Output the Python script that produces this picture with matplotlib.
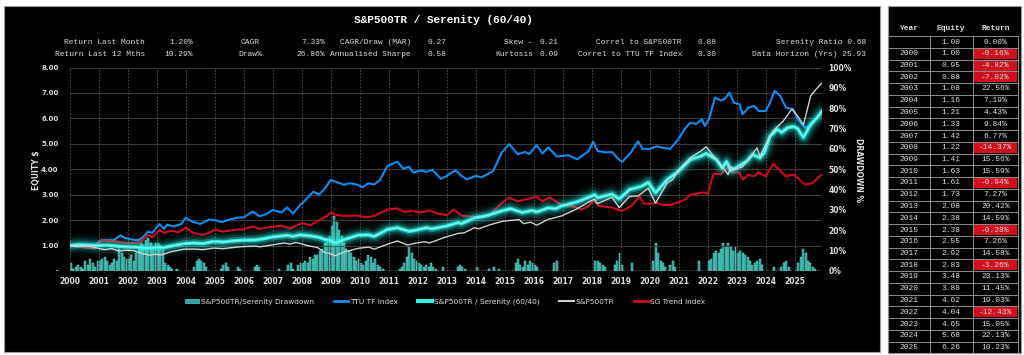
import numpy as np
import matplotlib
matplotlib.use('Agg')
import matplotlib.pyplot as plt
from matplotlib.patches import Rectangle, Patch
from matplotlib.lines import Line2D

# ---- data ----
ttu_t = [2000.0, 2000.3, 2000.6, 2000.85, 2001.0, 2001.2, 2001.5, 2001.75, 2001.9, 2002.1, 2002.35, 2002.5,
         2002.7, 2002.85, 2003.1, 2003.25, 2003.35, 2003.6, 2003.85, 2004.0, 2004.2, 2004.5, 2004.8, 2005.0,
         2005.25, 2005.5, 2005.8, 2006.0, 2006.3, 2006.55, 2006.8, 2007.0, 2007.3, 2007.5, 2007.7, 2007.95,
         2008.1, 2008.4, 2008.6, 2008.8, 2009.0, 2009.2, 2009.45, 2009.65, 2009.9, 2010.1, 2010.3, 2010.5,
         2010.7, 2010.95, 2011.1, 2011.3, 2011.5, 2011.7, 2011.85, 2012.1, 2012.3, 2012.5, 2012.8, 2013.0,
         2013.3, 2013.5, 2013.7, 2014.0, 2014.2, 2014.6, 2014.9, 2015.15, 2015.45, 2015.7, 2015.85, 2016.1,
         2016.3, 2016.5, 2016.8, 2017.2, 2017.5, 2017.9, 2018.05, 2018.2, 2018.5, 2018.7, 2018.9, 2019.05,
         2019.35, 2019.6, 2019.75, 2020.0, 2020.25, 2020.45, 2020.7, 2020.85, 2021.0, 2021.2, 2021.4, 2021.6,
         2021.8, 2021.9, 2022.05, 2022.25, 2022.45, 2022.6, 2022.75, 2022.9, 2023.1, 2023.2, 2023.4, 2023.6,
         2023.75, 2024.0, 2024.15, 2024.3, 2024.5, 2024.7, 2024.95, 2025.1, 2025.35, 2025.6]
ttu_v = [1.00, 0.97, 0.93, 0.95, 1.15, 1.22, 1.20, 1.40, 1.30, 1.25, 1.20, 1.30,
         1.55, 1.50, 1.85, 1.65, 1.82, 1.75, 1.85, 2.10, 1.95, 1.85, 2.02, 2.00,
         1.92, 2.02, 2.10, 2.10, 2.34, 2.15, 2.25, 2.40, 2.30, 2.50, 2.25, 2.60,
         2.75, 3.12, 3.00, 3.25, 3.58, 3.50, 3.39, 3.45, 3.40, 3.30, 3.45, 3.40,
         3.58, 4.12, 4.20, 4.30, 4.02, 4.10, 3.87, 3.95, 3.90, 3.98, 3.62, 3.74,
         3.96, 3.75, 3.60, 3.74, 3.68, 3.93, 4.66, 4.99, 4.59, 4.68, 4.60, 4.95,
         4.62, 4.86, 4.50, 4.55, 4.39, 4.72, 5.08, 4.72, 4.66, 4.68, 4.42, 4.29,
         4.66, 5.10, 4.80, 4.80, 4.90, 4.84, 4.80, 4.99, 5.20, 5.57, 5.83, 5.78,
         5.96, 5.70, 5.99, 6.82, 6.70, 6.78, 7.01, 6.62, 6.55, 6.16, 6.42, 6.49,
         6.29, 6.29, 6.62, 7.08, 6.88, 6.42, 6.36, 5.96, 5.63, 5.75]

sg_t = [2000.0, 2000.3, 2000.6, 2000.85, 2001.0, 2001.1, 2001.35, 2001.6, 2001.85, 2002.1, 2002.35, 2002.5,
        2002.7, 2002.85, 2003.1, 2003.25, 2003.5, 2003.75, 2004.0, 2004.25, 2004.6, 2004.8, 2005.0, 2005.3,
        2005.7, 2006.0, 2006.3, 2006.55, 2007.0, 2007.3, 2007.6, 2008.0, 2008.3, 2008.6, 2008.85, 2009.0,
        2009.2, 2009.5, 2009.9, 2010.25, 2010.5, 2010.7, 2010.95, 2011.3, 2011.55, 2011.8, 2012.1, 2012.4,
        2012.7, 2013.0, 2013.25, 2013.5, 2014.0, 2014.5, 2014.9, 2015.15, 2015.45, 2015.8, 2016.1, 2016.3,
        2016.55, 2016.9, 2017.4, 2017.65, 2017.9, 2018.05, 2018.25, 2018.7, 2019.05, 2019.35, 2019.65, 2019.8,
        2020.0, 2020.2, 2020.45, 2020.7, 2021.0, 2021.2, 2021.4, 2021.6, 2021.85, 2022.0, 2022.2, 2022.45,
        2022.7, 2022.85, 2023.1, 2023.2, 2023.4, 2023.6, 2023.75, 2024.0, 2024.25, 2024.45, 2024.7, 2024.95,
        2025.1, 2025.35, 2025.6, 2025.93]
sg_v = [1.03, 0.97, 0.92, 0.88, 1.10, 1.22, 1.18, 1.16, 1.12, 1.10, 1.10, 1.20,
        1.42, 1.32, 1.62, 1.50, 1.58, 1.52, 1.70, 1.50, 1.42, 1.50, 1.62, 1.55,
        1.62, 1.64, 1.75, 1.66, 1.74, 1.78, 1.68, 1.88, 1.80, 2.00, 2.15, 2.30,
        2.20, 2.16, 2.18, 2.11, 2.16, 2.28, 2.42, 2.46, 2.32, 2.36, 2.30, 2.38,
        2.25, 2.20, 2.42, 2.18, 2.13, 2.22, 2.68, 2.88, 2.74, 2.83, 2.92, 2.74,
        2.90, 2.63, 2.52, 2.42, 2.55, 2.79, 2.56, 2.49, 2.36, 2.54, 2.93, 2.66,
        2.64, 2.69, 2.60, 2.60, 2.70, 2.80, 3.00, 3.04, 3.09, 3.04, 3.83, 3.80,
        4.09, 3.88, 3.86, 3.59, 3.78, 3.72, 3.88, 3.72, 4.21, 4.00, 3.72, 3.79,
        3.66, 3.39, 3.45, 3.79]

ser_t = [2000.0, 2000.3, 2000.6, 2000.95, 2001.3, 2001.7, 2001.95, 2002.3, 2002.6, 2002.95, 2003.25, 2003.5,
         2003.95, 2004.3, 2004.6, 2004.95, 2005.3, 2005.6, 2005.95, 2006.4, 2006.7, 2006.95, 2007.5, 2007.7,
         2007.95, 2008.3, 2008.6, 2008.8, 2008.95, 2009.15, 2009.5, 2009.95, 2010.3, 2010.5, 2010.95, 2011.3,
         2011.7, 2011.95, 2012.3, 2012.5, 2012.95, 2013.4, 2013.5, 2013.95, 2014.4, 2014.95, 2015.2, 2015.6,
         2015.95, 2016.1, 2016.5, 2016.75, 2016.95, 2017.5, 2017.95, 2018.1, 2018.2, 2018.7, 2018.95, 2019.3,
         2019.7, 2019.95, 2020.2, 2020.6, 2020.95, 2021.4, 2021.75, 2021.95, 2022.3, 2022.5, 2022.65, 2022.8,
         2022.95, 2023.35, 2023.55, 2023.8, 2023.95, 2024.15, 2024.4, 2024.55, 2024.75, 2024.95, 2025.1, 2025.3,
         2025.55, 2025.75, 2025.93]
ser_v = [1.00, 1.03, 1.02, 1.00, 1.02, 0.97, 0.95, 0.94, 0.90, 0.92, 0.92, 0.98,
         1.08, 1.10, 1.08, 1.16, 1.14, 1.18, 1.21, 1.22, 1.27, 1.33, 1.40, 1.36,
         1.42, 1.38, 1.32, 1.24, 1.22, 1.10, 1.25, 1.41, 1.42, 1.36, 1.63, 1.70,
         1.56, 1.61, 1.70, 1.66, 1.76, 1.90, 1.86, 2.08, 2.18, 2.38, 2.45, 2.30,
         2.38, 2.32, 2.48, 2.45, 2.55, 2.72, 2.92, 3.00, 2.88, 3.02, 2.83, 3.20,
         3.32, 3.48, 3.07, 3.59, 3.88, 4.38, 4.51, 4.62, 4.38, 4.05, 4.30, 3.95,
         4.04, 4.32, 4.58, 4.45, 4.65, 5.30, 5.57, 5.45, 5.63, 5.68, 5.60, 5.25,
         5.76, 6.00, 6.26]

spx_t = [2000.0, 2000.2, 2000.5, 2000.7, 2000.95, 2001.2, 2001.45, 2001.7, 2001.95, 2002.2, 2002.45, 2002.75,
         2002.95, 2003.15, 2003.5, 2003.95, 2004.3, 2004.6, 2004.95, 2005.3, 2005.7, 2005.95, 2006.4, 2006.55,
         2006.95, 2007.4, 2007.6, 2007.8, 2007.95, 2008.2, 2008.55, 2008.8, 2008.95, 2009.15, 2009.5, 2009.95,
         2010.3, 2010.5, 2010.95, 2011.3, 2011.65, 2011.95, 2012.25, 2012.4, 2012.95, 2013.4, 2013.6, 2013.95,
         2014.1, 2014.5, 2014.95, 2015.3, 2015.5, 2015.65, 2015.9, 2016.1, 2016.5, 2016.95, 2017.5, 2017.95,
         2018.1, 2018.2, 2018.7, 2018.95, 2019.3, 2019.6, 2019.95, 2020.2, 2020.6, 2020.8, 2020.95, 2021.4,
         2021.75, 2021.95, 2022.2, 2022.5, 2022.7, 2022.8, 2022.95, 2023.2, 2023.45, 2023.7, 2023.8, 2024.0,
         2024.25, 2024.6, 2024.9, 2025.1, 2025.3, 2025.55, 2025.7, 2025.93]
spx_v = [1.00, 0.96, 0.98, 0.97, 0.90, 0.84, 0.88, 0.78, 0.82, 0.80, 0.70, 0.62,
         0.66, 0.63, 0.76, 0.86, 0.86, 0.84, 0.90, 0.88, 0.93, 0.96, 0.98, 0.95,
         1.02, 1.10, 1.06, 1.12, 1.08, 1.00, 0.92, 0.72, 0.70, 0.60, 0.76, 0.89,
         0.94, 0.86, 1.05, 1.18, 1.02, 1.10, 1.15, 1.10, 1.33, 1.48, 1.50, 1.70,
         1.66, 1.82, 1.96, 2.00, 2.02, 1.86, 1.92, 1.80, 2.03, 2.16, 2.45, 2.75,
         2.82, 2.65, 2.90, 2.49, 2.93, 2.95, 3.26, 2.67, 3.46, 3.60, 3.92, 4.45,
         4.71, 4.88, 4.51, 4.12, 3.79, 4.10, 3.99, 4.10, 4.45, 4.84, 4.50, 4.97,
         5.50, 5.89, 6.36, 6.09, 5.75, 6.88, 7.10, 7.38]

# monthly drawdown of S&P500TR / Serenity (%), one row per year 2000..2025
drawdown_pct = [
    [4, 1, 2, 3, 2, 1, 5, 3, 6, 4, 2, 5],
    [5, 6, 7, 5, 3, 4, 6, 5, 11, 9, 7, 6],
    [6, 8, 5, 9, 12, 14, 13, 15, 16, 14, 12, 14],
    [14, 13, 12, 4, 3, 2, 1, 0, 1, 0, 0, 0],
    [0, 0, 0, 2, 5, 6, 5, 4, 2, 0, 0, 0],
    [0, 0, 1, 3, 4, 2, 0, 0, 0, 2, 1, 0],
    [0, 0, 0, 0, 2, 3, 2, 0, 0, 0, 0, 0],
    [0, 0, 1, 0, 0, 0, 3, 4, 1, 0, 3, 4],
    [4, 5, 4, 7, 6, 8, 8, 10, 11, 14, 15, 17],
    [22, 27, 24, 20, 17, 14, 11, 10, 9, 7, 5, 6],
    [4, 3, 5, 8, 7, 4, 6, 3, 2, 1, 0, 0],
    [0, 0, 0, 0, 1, 2, 4, 7, 12, 9, 6, 5],
    [4, 3, 2, 3, 2, 4, 2, 1, 0, 0, 2, 0],
    [0, 0, 0, 0, 2, 3, 2, 1, 0, 0, 0, 0],
    [2, 0, 0, 0, 0, 1, 0, 2, 0, 1, 0, 0],
    [0, 0, 0, 0, 4, 6, 3, 2, 5, 3, 5, 4],
    [3, 2, 0, 0, 0, 0, 0, 0, 4, 5, 0, 0],
    [0, 0, 0, 0, 0, 0, 0, 0, 0, 0, 0, 0],
    [0, 5, 5, 4, 3, 2, 0, 0, 0, 3, 5, 9],
    [3, 0, 0, 0, 4, 0, 0, 0, 0, 0, 0, 0],
    [0, 5, 14, 9, 5, 4, 2, 0, 3, 5, 2, 0],
    [0, 0, 0, 0, 0, 0, 0, 0, 5, 0, 0, 0],
    [5, 6, 9, 10, 9, 11, 14, 12, 14, 12, 10, 12],
    [9, 10, 9, 8, 7, 5, 3, 4, 5, 6, 3, 0],
    [0, 0, 0, 2, 0, 0, 2, 4, 5, 2, 0, 0],
    [0, 4, 7, 11, 9, 5, 4, 2, 1, 0, 0],
]

table_years = [''] + [str(y) for y in range(2000, 2026)]
table_equity = [1.00, 1.00, 0.95, 0.88, 1.08, 1.16, 1.21, 1.33, 1.42, 1.22, 1.41, 1.63, 1.61, 1.73,
                2.08, 2.38, 2.38, 2.55, 2.92, 2.83, 3.48, 3.88, 4.62, 4.04, 4.65, 5.68, 6.26]
table_return = [0.00, -0.16, -4.82, -7.02, 22.56, 7.19, 4.43, 9.84, 6.77, -14.37, 15.56, 15.59, -0.94,
                7.27, 20.42, 14.59, -0.28, 7.26, 14.58, -3.26, 23.13, 11.45, 19.03, -12.43, 15.05, 22.13, 10.23]

stats_row1 = [('Return Last Month', '1.20%'), ('CAGR', '7.33%'), ('CAGR/Draw (MAR)', '0.27'),
              ('Skew -', '0.21'), ('Correl to S&P500TR', '0.88'), ('Serenity Ratio', '0.68')]
stats_row2 = [('Return Last 12 Mths', '10.29%'), ('Draw%', '26.86%'), ('Annualised Sharpe', '0.58'),
              ('Kurtosis', '0.09'), ('Correl to TTU TF Index', '0.30'), ('Data Horizon (Yrs)', '25.93')]

# ---- style ----
W, H = 1024, 355
MONO = ['Liberation Mono', 'DejaVu Sans Mono']
NARROW = ['Liberation Sans Narrow', 'DejaVu Sans']
TXT = '#dedede'
C_TTU = '#0c8ef2'
C_SG = '#d2061f'
C_SER = '#2ef2e2'
C_SPX = '#d0d0d0'
C_DD = '#26a79d'

fig = plt.figure(figsize=(W / 100, H / 100), dpi=100, facecolor='white')

# background overlay in pixel coordinates
bg = fig.add_axes([0, 0, 1, 1], zorder=0)
bg.set_xlim(0, W)
bg.set_ylim(H, 0)
bg.axis('off')
bg.add_patch(Rectangle((4, 6), 876, 346, facecolor='black', edgecolor='#9a9a9a', lw=0.8))
bg.add_patch(Rectangle((888, 6), 133, 347, facecolor='black', edgecolor='#9a9a9a', lw=0.8))

# title + stats
bg.text(443, 20, 'S&P500TR / Serenity (60/40)', color='white', fontsize=8, fontweight='bold',
        family=MONO, ha='center', va='center')
lab_x = [(145, 'right'), (250, 'center'), (411, 'right'), (533, 'right'), (682, 'right')]
val_x = [193, 325, 427, 539, 698]
for row, y in ((stats_row1, 42), (stats_row2, 55)):
    for i, (lab, val) in enumerate(row):
        if i < 5:
            bg.text(lab_x[i][0], y, lab, color=TXT, fontsize=5.7, family=MONO, ha=lab_x[i][1], va='center')
            ha = 'right' if i < 2 else 'left'
            bg.text(val_x[i], y, val, color=TXT, fontsize=5.7, family=MONO, ha=ha, va='center')
        else:
            bg.text(866, y, f'{lab} {val}', color=TXT, fontsize=5.7, family=MONO, ha='right', va='center')

bg.text(37, 170, 'EQUITY $', color=TXT, fontsize=5.5, fontweight='bold', rotation=90, ha='center', va='center')
bg.text(858, 170, 'DRAWDOWN %', color=TXT, fontsize=5.5, fontweight='bold', rotation=270, ha='center', va='center')

# ---- main chart ----
left, right, top, bottom = 69.7, 821.7, 67.5, 271
ax = fig.add_axes([left / W, (H - bottom) / H, (right - left) / W, (bottom - top) / H], zorder=3)
ax2 = ax.twinx()
ax2.set_zorder(2)
ax.set_zorder(3)
ax.patch.set_visible(False)
ax2.patch.set_visible(False)

dd = np.array([v for yr in drawdown_pct for v in yr], dtype=float) / 100
dd_t = 2000 + (np.arange(len(dd)) + 0.5) / 12
ax2.bar(dd_t, dd, width=0.065, color=C_DD, edgecolor='#7be8dd', linewidth=0.35, alpha=0.95)
ax2.set_ylim(0, 1)
ax2.set_yticks(np.arange(0, 1.01, 0.1))
ax2.set_yticklabels([f'{int(round(v * 100))}%' for v in np.arange(0, 1.01, 0.1)])

ax.plot(ttu_t, ttu_v, color=C_TTU, lw=1.5, zorder=4)
ax.plot(sg_t, sg_v, color=C_SG, lw=1.5, zorder=4)
for lw, a in ((15, 0.05), (11, 0.09), (8, 0.15), (5, 0.32)):
    ax.plot(ser_t, ser_v, color=C_SER, lw=lw, alpha=a, solid_capstyle='round', zorder=5)
ax.plot(ser_t, ser_v, color=C_SER, lw=2.4, zorder=6)
ax.plot(ser_t, ser_v, color='#d8fffa', lw=0.6, alpha=0.7, zorder=6)
ax.plot(spx_t, spx_v, color=C_SPX, lw=1.0, zorder=7)

ax.set_xlim(2000, 2025.93)
ax.set_ylim(0, 8)
ax.set_yticks(range(0, 9))
ax.set_yticklabels(['-'] + [f'{v:.2f}' for v in range(1, 9)])
ax.set_xticks(range(2000, 2026))
ax.set_xticklabels([str(y) for y in range(2000, 2026)])
ax2.set_xlim(2000, 2025.93)

for y in range(0, 9):
    ax.axhline(y, color='#3a3a3a', lw=0.8, zorder=1)
for x in range(2000, 2026):
    ax.axvline(x, color='#5c5c5c', lw=0.6, ls=(0, (2, 2)), zorder=1)

for a in (ax, ax2):
    for s in a.spines.values():
        s.set_visible(False)
ax.tick_params(axis='y', length=0, pad=8, labelcolor=TXT, labelsize=5)
ax.tick_params(axis='x', length=0, pad=4, labelcolor=TXT, labelsize=5.5)
ax2.tick_params(axis='y', length=0, pad=5, labelcolor=TXT, labelsize=5.5)
for lbl in ax.get_yticklabels() + ax2.get_yticklabels():
    lbl.set_fontweight('bold')
for lbl in ax.get_xticklabels():
    lbl.set_fontweight('bold')
    lbl.set_family(NARROW)

handles = [Patch(facecolor=C_DD, edgecolor='#7be8dd', lw=0.4),
           Line2D([], [], color=C_TTU, lw=2),
           Line2D([], [], color=C_SER, lw=3),
           Line2D([], [], color=C_SPX, lw=1.5),
           Line2D([], [], color=C_SG, lw=2)]
labels = ['S&P500TR/Serenity Drawdown', 'TTU TF Index', 'S&P500TR / Serenity (60/40)', 'S&P500TR', 'SG Trend Index']
leg = fig.legend(handles, labels, loc='center', bbox_to_anchor=(445 / W, 1 - 302 / H), ncol=5, frameon=False,
                 handlelength=2.0, handleheight=0.5, handletextpad=0.2, columnspacing=2.7,
                 prop={'family': NARROW, 'size': 5.3})
for t in leg.get_texts():
    t.set_color(TXT)

# ---- year table ----
col_edges = [888, 929.5, 972.5, 1018]
col_mid = [(col_edges[i] + col_edges[i + 1]) / 2 for i in range(3)]
row_h = 11.75
y0 = 42
bg.text(col_mid[0], 29, 'Year', color=TXT, fontsize=5.7, family=MONO, fontweight='bold', ha='center', va='center')
bg.text(col_mid[1], 29, 'Equity', color=TXT, fontsize=5.7, family=MONO, fontweight='bold', ha='center', va='center')
bg.text(col_mid[2], 29, 'Return', color=TXT, fontsize=5.7, family=MONO, fontweight='bold', ha='center', va='center')
n = len(table_years)
top_line = y0 - row_h / 2
bot_line = y0 + row_h * (n - 1) + row_h / 2
for i in range(n):
    y = y0 + i * row_h
    if table_return[i] < 0:
        bg.add_patch(Rectangle((col_edges[2] + 0.8, y - row_h / 2 + 0.8), col_edges[3] - col_edges[2] - 1.6,
                               row_h - 1.6, facecolor='#d0101c', edgecolor='none'))
    bg.text(col_mid[0], y, table_years[i], color=TXT, fontsize=5.7, family=MONO, ha='center', va='center')
    bg.text(col_mid[1], y, f'{table_equity[i]:.2f}', color=TXT, fontsize=5.7, family=MONO, ha='center', va='center')
    bg.text(col_mid[2], y, f'{table_return[i]:.2f}%', color=TXT, fontsize=5.7, family=MONO, ha='center', va='center')
    bg.plot([col_edges[0], col_edges[3]], [y - row_h / 2] * 2, color='#8c8c8c', lw=0.7)
bg.plot([col_edges[0], col_edges[3]], [bot_line] * 2, color='#8c8c8c', lw=0.7)
for xe in col_edges:
    bg.plot([xe, xe], [top_line, bot_line], color='#8c8c8c', lw=0.7)

fig.savefig('out.png', dpi=100, facecolor='white')
